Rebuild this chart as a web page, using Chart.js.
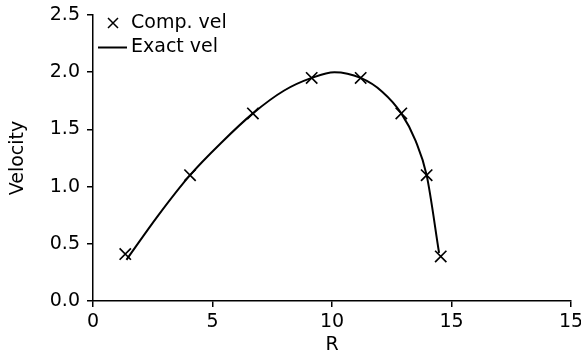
<!DOCTYPE html>
<html>
<head>
<meta charset="utf-8">
<script src="https://cdn.jsdelivr.net/npm/chart.js@4/dist/chart.umd.min.js"></script>
<style>
  html, body { margin: 0; padding: 0; background: #fff; }
  #wrap { width: 581px; height: 358px; position: relative; }
</style>
</head>
<body>
<div id="wrap"><canvas id="c" width="581" height="358"></canvas></div>
<script>
// Computed velocity (markers)
const compR = [1.35, 4.06, 6.69, 9.15, 11.2, 12.9, 13.96, 14.55];
const compV = [0.41, 1.10, 1.64, 1.95, 1.95, 1.64, 1.10, 0.39];
// Exact velocity (line)
const exactR = [1.40, 2.70, 4.06, 5.40, 6.69, 8.00, 9.15, 10.10, 11.20, 12.10, 12.90, 13.50, 13.96, 14.48];
const exactV = [0.36, 0.74, 1.10, 1.39, 1.64, 1.84, 1.95, 2.00, 1.95, 1.83, 1.64, 1.40, 1.10, 0.42];
// Tick labels as printed on the original x axis
const xTickLabels = ['0', '5', '10', '15', '15'];
const yTickValues = [0, 0.5, 1.0, 1.5, 2.0, 2.5];

const FONT = '"DejaVu Sans", sans-serif';
const FSIZE = 19;

const legendPlugin = {
  id: 'customLegend',
  afterDraw(chart) {
    const ctx = chart.ctx;
    ctx.save();
    ctx.font = FSIZE + 'px ' + FONT;
    ctx.fillStyle = '#000';
    ctx.strokeStyle = '#000';
    ctx.textBaseline = 'middle';
    // marker entry
    ctx.lineWidth = 1.5;
    const mx = 113, my = 23, s = 5;
    ctx.beginPath();
    ctx.moveTo(mx - s, my - s); ctx.lineTo(mx + s, my + s);
    ctx.moveTo(mx + s, my - s); ctx.lineTo(mx - s, my + s);
    ctx.stroke();
    ctx.fillText(chart.data.datasets[0].label, 131, 23);
    // line entry
    ctx.lineWidth = 2;
    ctx.beginPath();
    ctx.moveTo(98, 47.5); ctx.lineTo(127, 47.5);
    ctx.stroke();
    ctx.fillText(chart.data.datasets[1].label, 131, 47.5);
    ctx.restore();
  }
};

new Chart(document.getElementById('c'), {
  type: 'scatter',
  data: {
    datasets: [
      {
        label: 'Comp. vel',
        data: compR.map((r, i) => ({ x: r, y: compV[i] })),
        showLine: false,
        pointStyle: 'crossRot',
        pointRadius: 8,
        pointBorderWidth: 1.7,
        borderColor: '#000',
        backgroundColor: '#000'
      },
      {
        label: 'Exact vel',
        data: exactR.map((r, i) => ({ x: r, y: exactV[i] })),
        showLine: true,
        pointRadius: 0,
        borderColor: '#000',
        borderWidth: 2,
        cubicInterpolationMode: 'monotone',
        fill: false
      }
    ]
  },
  options: {
    responsive: false,
    animation: false,
    devicePixelRatio: 1,
    layout: { padding: { top: 15, right: 10, left: 0, bottom: 0 } },
    plugins: { legend: { display: false }, tooltip: { enabled: false } },
    scales: {
      x: {
        type: 'linear',
        min: 0, max: 20,
        afterBuildTicks(scale) {
          scale.ticks = xTickLabels.map((_, i) => ({ value: i * 5 }));
        },
        ticks: {
          callback: (v, i) => xTickLabels[i],
          color: '#000',
          font: { family: FONT, size: FSIZE },
          padding: 4,
          maxRotation: 0
        },
        grid: { drawOnChartArea: false, drawTicks: true, tickLength: 6, color: '#000', lineWidth: 1.5 },
        border: { display: true, color: '#000', width: 1.5 },
        title: { display: true, text: 'R', color: '#000', font: { family: FONT, size: FSIZE }, padding: { top: 0, bottom: 2 } },
        afterFit(scale) { scale.height = 57; scale.paddingLeft = 0; scale.paddingRight = 0; }
      },
      y: {
        min: 0, max: 2.5,
        afterBuildTicks(scale) {
          scale.ticks = yTickValues.map(v => ({ value: v }));
        },
        ticks: {
          callback: v => Number(v).toFixed(1),
          color: '#000',
          font: { family: FONT, size: FSIZE },
          padding: 7
        },
        grid: { drawOnChartArea: false, drawTicks: true, tickLength: 6, color: '#000', lineWidth: 1.5 },
        border: { display: true, color: '#000', width: 1.5 },
        title: { display: true, text: 'Velocity', color: '#000', font: { family: FONT, size: FSIZE }, padding: { top: 7, bottom: 0 } },
        afterFit(scale) { scale.width = 93; scale.paddingTop = 0; scale.paddingBottom = 0; }
      }
    }
  },
  plugins: [legendPlugin]
});
</script>
</body>
</html>
